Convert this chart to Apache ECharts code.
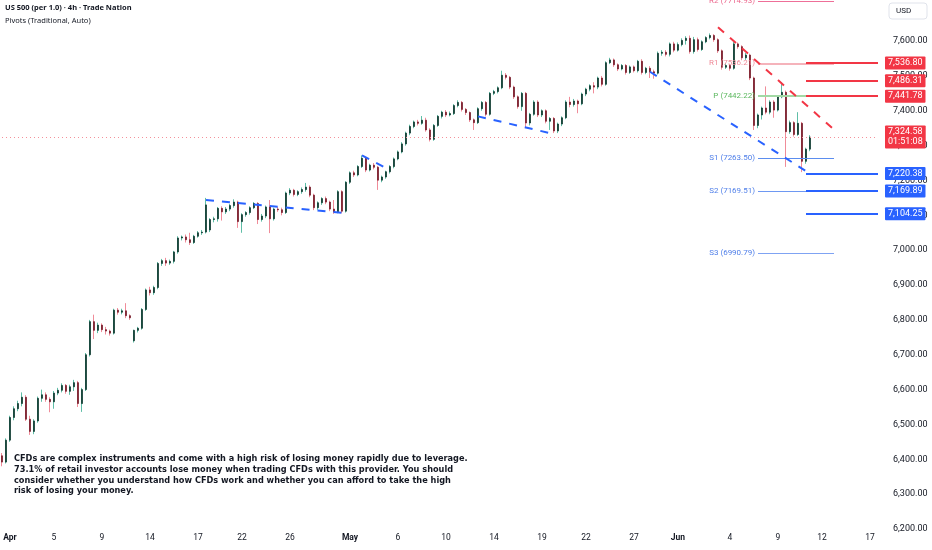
<!DOCTYPE html>
<html><head><meta charset="utf-8">
<script src="https://cdn.jsdelivr.net/npm/echarts@6.0.0/dist/echarts.min.js"></script>
<style>html,body{margin:0;padding:0;background:#fff}#c{width:932px;height:550px}</style>
</head><body><div id="c"></div>
<script>
// ---- data ----
// [open, close, low, high] per 4h bar
const candles = [
[6410,6392,6380,6418],[6392,6455,6388,6460],[6455,6520,6450,6525],[6520,6545,6512,6552],[6545,6560,6538,6568],
[6560,6578,6552,6592],[6578,6515,6510,6584],[6515,6480,6470,6525],[6480,6510,6472,6515],[6510,6575,6505,6580],
[6575,6585,6565,6600],[6585,6572,6565,6592],[6572,6565,6535,6578],[6565,6590,6545,6596],[6590,6598,6584,6605],
[6598,6612,6592,6618],[6612,6595,6588,6616],[6595,6608,6585,6614],[6608,6620,6596,6628],[6620,6560,6550,6625],
[6560,6600,6536,6605],[6600,6700,6596,6705],[6700,6795,6695,6800],[6795,6770,6745,6815],[6770,6785,6762,6792],
[6785,6772,6765,6790],[6772,6768,6758,6780],[6768,6762,6755,6772],[6762,6828,6758,6832],[6828,6822,6815,6834],
[6822,6826,6816,6832],[6826,6812,6805,6848],[6812,6806,6800,6816],[6740,6770,6735,6772],[6770,6776,6764,6780],
[6776,6830,6772,6834],[6830,6886,6826,6890],[6886,6878,6870,6895],[6878,6893,6872,6898],[6893,6962,6888,6966],
[6962,6970,6955,6975],[6970,6963,6955,6978],[6963,6968,6958,6973],[6968,6995,6962,6998],[6995,7035,6990,7040],
[7035,7038,7028,7042],[7038,7030,7022,7045],[7030,7022,7015,7050],[7022,7040,7018,7044],[7040,7050,7036,7055],
[7050,7052,7044,7058],[7052,7130,7048,7150],[7058,7088,7052,7092],[7088,7090,7080,7096],[7090,7120,7082,7124],
[7120,7110,7085,7126],[7110,7118,7104,7124],[7118,7128,7112,7133],[7128,7138,7122,7146],[7138,7082,7064,7142],
[7082,7102,7050,7106],[7102,7108,7096,7112],[7108,7122,7102,7126],[7122,7134,7118,7138],[7134,7088,7075,7138],
[7088,7098,7082,7104],[7098,7124,7092,7128],[7124,7090,7049,7144],[7090,7118,7085,7122],[7118,7116,7110,7124],
[7116,7108,7100,7122],[7108,7164,7104,7168],[7164,7172,7158,7178],[7172,7160,7154,7176],[7160,7168,7155,7172],
[7168,7174,7162,7180],[7174,7181,7168,7193],[7181,7158,7152,7186],[7158,7122,7115,7162],[7122,7136,7116,7140],
[7136,7148,7130,7152],[7148,7138,7132,7154],[7138,7118,7112,7142],[7118,7110,7104,7144],[7110,7168,7106,7172],
[7168,7112,7106,7172],[7112,7195,7108,7198],[7195,7222,7190,7226],[7222,7216,7210,7228],[7216,7240,7212,7244],
[7240,7264,7236,7272],[7264,7230,7224,7268],[7230,7244,7226,7248],[7244,7238,7232,7250],[7238,7201,7173,7242],
[7201,7210,7195,7214],[7210,7225,7205,7228],[7225,7240,7220,7244],[7240,7262,7235,7266],[7262,7282,7258,7286],
[7282,7305,7278,7310],[7305,7336,7300,7340],[7336,7355,7330,7360],[7355,7368,7350,7372],[7368,7364,7358,7374],
[7364,7373,7360,7385],[7373,7345,7340,7380],[7345,7318,7312,7350],[7318,7358,7314,7362],[7358,7384,7354,7388],
[7384,7396,7378,7400],[7396,7388,7382,7402],[7388,7392,7384,7398],[7392,7415,7388,7419],[7415,7424,7410,7430],
[7424,7404,7398,7428],[7404,7395,7388,7408],[7395,7374,7368,7398],[7374,7366,7345,7378],[7366,7406,7362,7410],
[7406,7424,7400,7428],[7424,7390,7384,7428],[7390,7450,7386,7454],[7450,7455,7445,7460],[7455,7466,7450,7470],
[7466,7502,7462,7515],[7502,7496,7490,7508],[7496,7468,7462,7500],[7468,7440,7434,7472],[7440,7412,7406,7444],
[7412,7450,7400,7454],[7450,7365,7350,7454],[7365,7390,7358,7394],[7390,7425,7386,7430],[7425,7388,7382,7430],
[7388,7400,7382,7404],[7400,7370,7364,7404],[7370,7378,7345,7382],[7378,7342,7336,7382],[7342,7362,7336,7366],
[7362,7380,7356,7384],[7380,7425,7376,7430],[7425,7418,7410,7440],[7418,7428,7412,7434],[7428,7420,7393,7432],
[7420,7448,7416,7452],[7448,7462,7442,7466],[7462,7472,7456,7476],[7472,7468,7450,7482],[7468,7494,7462,7498],
[7494,7476,7470,7500],[7476,7538,7472,7542],[7538,7546,7534,7552],[7546,7532,7526,7550],[7532,7520,7514,7536],
[7520,7530,7516,7534],[7530,7510,7504,7534],[7510,7526,7506,7530],[7526,7515,7510,7530],[7515,7542,7510,7546],
[7542,7510,7504,7548],[7510,7522,7505,7526],[7522,7512,7494,7528],[7512,7508,7492,7518],[7508,7565,7504,7570],
[7565,7568,7558,7574],[7568,7562,7556,7574],[7562,7592,7556,7596],[7592,7574,7568,7598],[7574,7590,7570,7596],
[7590,7602,7585,7608],[7602,7608,7590,7614],[7608,7570,7564,7616],[7570,7604,7564,7612],[7604,7576,7570,7610],
[7576,7598,7572,7602],[7598,7610,7594,7614],[7610,7616,7605,7622],[7616,7604,7598,7620],[7604,7572,7566,7608],
[7572,7525,7518,7576],[7525,7530,7520,7536],[7530,7522,7515,7535],[7522,7592,7518,7598],[7592,7584,7578,7596],
[7584,7552,7545,7588],[7552,7560,7546,7566],[7560,7494,7488,7564],[7494,7358,7345,7498],[7358,7388,7350,7392],
[7388,7408,7375,7412],[7408,7396,7390,7470],[7396,7425,7390,7430],[7425,7402,7380,7430],[7402,7440,7398,7444],
[7440,7453,7436,7482],[7453,7340,7239,7458],[7340,7366,7334,7372],[7366,7332,7326,7370],[7332,7364,7328,7396],
[7364,7255,7224,7368],[7255,7290,7248,7294],[7290,7324.58,7284,7330]
];
const slotCount = 220;                       // bar slots incl. empty space on the right
const tickIdx  = [2,13,25,37,49,60,72,87,99,111,123,135,146,158,169,182,194,205,217];
const tickText = ['Apr','5','9','14','17','22','26','May','6','10','14','19','22','27','Jun','4','9','12','17'];
const pivotNames  = ['R2','R1','P','S1','S2','S3'];
const pivotValues = [7714.93, 7536.21, 7442.22, 7263.50, 7169.51, 6990.79];
const redLevels  = [7536.80, 7486.31, 7441.78];
const blueLevels = [7220.38, 7169.89, 7104.25];
const lastPrice = 7324.58;
const countdown = '01:51:08';
// trend lines: [startBar, startPrice, endBar, endPrice]
const blueTrends = [[51,7144,85,7107],[90,7272,96,7236],[119,7384,137,7336],[162,7512,201,7227]];
const redTrends  = [[179,7640,209,7336]];
const yTicks = [6200,6300,6400,6500,6600,6700,6800,6900,7000,7100,7200,7300,7400,7500,7600];

// ---- styling ----
const UP_BODY='#123d33', UP_WICK='#5fbea7', DN_BODY='#7a1f2d', DN_WICK='#f08c99';
const RED='#f23645', BLUE='#2962ff';
const pivotLineColors=['#ee6f98','#f5b3bb','#a3d9a5','#5b8def','#6e98f2','#7fa3f3'];
const pivotTextColors=['#ec6a8f','#ef8a98','#5cb85f','#4f7fe9','#4f7fe9','#4f7fe9'];
const pivotWidths=[1,2,2,1,1,1];
const FONT='Roboto';

const fmt = v => { const s=v.toFixed(2).split('.'); return s[0].replace(/\B(?=(\d{3})+(?!\d))/g,',')+'.'+s[1]; };
const categories = Array.from({length:slotCount},(_,i)=>'b'+i);
const lastIdx = slotCount-1;
const pivotStart = 189, pivotEnd = 208, levelStart = 201;

const lines = [];
pivotNames.forEach((n,k)=>{
  lines.push([{coord:[pivotStart,pivotValues[k]], lineStyle:{color:pivotLineColors[k],width:pivotWidths[k],type:'solid'},
    label:{show:true,position:'start',distance:3,formatter:n+' ('+pivotValues[k].toFixed(2)+')',color:pivotTextColors[k],fontSize:8,fontFamily:FONT}},
    {coord:[pivotEnd,pivotValues[k]]}]);
});
const boxLabel = (bg,txt)=>({show:true,position:'end',distance:7,formatter:txt,backgroundColor:bg,color:'#fff',
  padding:[2,3,1,3],fontSize:9,fontFamily:FONT,borderRadius:1,lineHeight:10});
redLevels.forEach(v=>lines.push([{coord:[levelStart,v],lineStyle:{color:RED,width:2,type:'solid'},label:boxLabel(RED,fmt(v))},{coord:[lastIdx,v]}]));
blueLevels.forEach(v=>lines.push([{coord:[levelStart,v],lineStyle:{color:BLUE,width:2,type:'solid'},label:boxLabel(BLUE,fmt(v))},{coord:[lastIdx,v]}]));
lines.push([{coord:[0,lastPrice],lineStyle:{color:'#f4909a',width:1,type:[1,3]},label:boxLabel(RED,fmt(lastPrice)+'\n'+countdown)},{coord:[lastIdx,lastPrice]}]);
blueTrends.forEach(t=>lines.push([{coord:[t[0],t[1]],lineStyle:{color:BLUE,width:2,type:[8,8]},label:{show:false}},{coord:[t[2],t[3]]}]));
redTrends.forEach(t=>lines.push([{coord:[t[0],t[1]],lineStyle:{color:RED,width:2,type:[8,8]},label:{show:false}},{coord:[t[2],t[3]]}]));

const chart = echarts.init(document.getElementById('c'),null,{renderer:'canvas'});
chart.setOption({
  animation:false,
  backgroundColor:'#ffffff',
  grid:{left:0,right:52,top:0,bottom:21},
  xAxis:{type:'category',data:categories,boundaryGap:true,
    axisLine:{show:false},axisTick:{show:false},splitLine:{show:false},
    axisLabel:{interval:(i)=>tickIdx.indexOf(i)>=0,margin:4,color:'#131722',fontSize:8.5,fontFamily:FONT,
      formatter:(v,i)=>{const k=tickIdx.indexOf(i); if(k<0) return ''; const t=tickText[k]; return isNaN(+t)?'{b|'+t+'}':t;},
      rich:{b:{fontWeight:'bold',fontSize:8.5,fontFamily:FONT,color:'#131722'}}}},
  yAxis:{type:'value',position:'right',min:6200,max:7717.9,interval:100,scale:true,
    axisLine:{show:false},axisTick:{show:false},splitLine:{show:false},
    axisLabel:{margin:13,align:'left',color:'#131722',fontSize:9,fontFamily:FONT,
      formatter:v=>yTicks.indexOf(Math.round(v*100)/100)>=0?fmt(v):''}},
  series:[
    {type:'candlestick',data:candles.map(c=>[c[0],c[1],c[2],c[3]]),barWidth:1,z:2,
      itemStyle:{color:UP_WICK,color0:DN_WICK,borderColor:UP_WICK,borderColor0:DN_WICK,borderWidth:1}},
    {type:'candlestick',data:candles.map(c=>[c[0],c[1],Math.min(c[0],c[1]),Math.max(c[0],c[1])]),barWidth:2.2,z:3,
      itemStyle:{color:UP_BODY,color0:DN_BODY,borderColor:UP_BODY,borderColor0:DN_BODY,borderWidth:0.8}},
    {type:'line',data:[],z:5,markLine:{silent:true,symbol:['none','none'],animation:false,data:lines}}
  ],
  graphic:[
    {type:'text',left:5,top:4,z:20,style:{text:'US 500 (per 1.0) · 4h · Trade Nation',fontSize:7.5,fontWeight:'bold',fontFamily:'Noto Sans',fill:'#131722'}},
    {type:'text',left:5,top:17,z:20,style:{text:'Pivots (Traditional, Auto)',fontSize:7.5,fontFamily:'Noto Sans',fill:'#131722'}},
    {type:'rect',shape:{x:889,y:3,width:38,height:16,r:3},z:20,style:{fill:'#fff',stroke:'#e0e3eb',lineWidth:1}},
    {type:'text',x:896,y:7,z:21,style:{text:'USD',fontSize:8,fontFamily:FONT,fill:'#131722'}},
    {type:'text',left:14,top:454,z:20,style:{text:'CFDs are complex instruments and come with a high risk of losing money rapidly due to leverage.\n73.1% of retail investor accounts lose money when trading CFDs with this provider. You should\nconsider whether you understand how CFDs work and whether you can afford to take the high\nrisk of losing your money.',
      fontSize:8.2,lineHeight:10.6,fontWeight:'bold',fontFamily:'DejaVu Sans',fill:'#131722'}}
  ]
});
</script></body></html>
